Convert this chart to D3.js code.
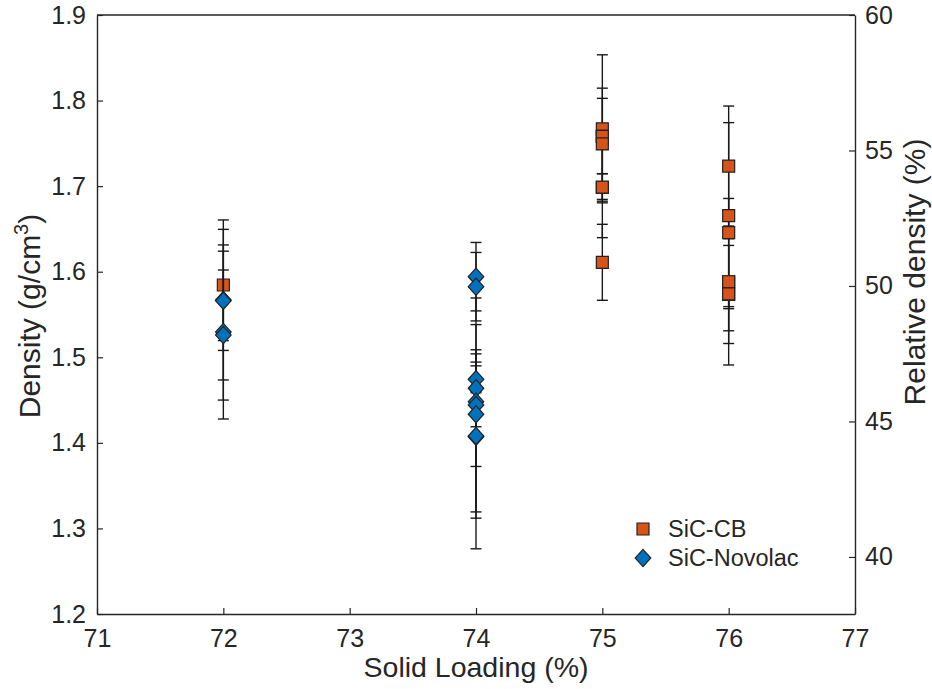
<!DOCTYPE html>
<html>
<head>
<meta charset="utf-8">
<script src="https://cdn.jsdelivr.net/npm/d3@7"></script>
<style>
  html, body { margin: 0; padding: 0; background: #fff; }
  svg { display: block; font-family: "Liberation Sans", Arial, Helvetica, sans-serif; }
</style>
</head>
<body>
<svg id="chart" width="932" height="689"></svg>
<script>
// Solid loading (%) of each measured sample, density (g/cm3) and its error
const cbLoading  = [72, 75, 75, 75, 75, 75, 75, 75, 76, 76, 76, 76, 76, 76, 76];
const cbDensity  = [1.5845, 1.767, 1.7586, 1.758, 1.7495, 1.6984, 1.6988, 1.611,
                    1.7235, 1.6655, 1.6456, 1.5883, 1.5883, 1.5734, 1.574];
const cbError    = [0.065, 0.0865, 0.044, 0.015, 0.065, 0.016, 0.059, 0.0444,
                    0.0701, 0.1087, 0.007, 0.0973, 0.0573, 0.0573, 0.0148];

const novLoading = [72, 72, 72, 72, 74, 74, 74, 74, 74, 74, 74, 74, 74];
const novDensity = [1.567, 1.566, 1.5296, 1.526, 1.5942, 1.5825, 1.4743, 1.4638,
                    1.4481, 1.4443, 1.4334, 1.4072, 1.408];
const novError   = [0.0935, 0.058, 0.1017, 0.076, 0.040, 0.040, 0.0157, 0.045,
                    0.012, 0.125, 0.061, 0.131, 0.096];

const xTicks     = [71, 72, 73, 74, 75, 76, 77];
const yTicks     = [1.2, 1.3, 1.4, 1.5, 1.6, 1.7, 1.8, 1.9];
const relTicks   = [40, 45, 50, 55, 60];
const seriesNames = ["SiC-CB", "SiC-Novolac"];

// relative density = density / theoretical density
const theoretical = 1.9 / 0.60;

const svg = d3.select("#chart");
const plotL = 97, plotR = 855, plotT = 15, plotB = 614;
const ink = "#262626";

const x = d3.scaleLinear().domain([71, 77]).range([plotL, plotR]);
const y = d3.scaleLinear().domain([1.2, 1.9]).range([plotB, plotT]);
const yRel = d3.scaleLinear()
  .domain([1.2 / theoretical * 100, 1.9 / theoretical * 100])
  .range([plotB, plotT]);

// axes
const xAxis = svg.append("g").attr("transform", `translate(0,${plotB})`)
  .call(d3.axisBottom(x).tickValues(xTicks).tickFormat(d3.format("d"))
    .tickSizeInner(-6).tickSizeOuter(0).tickPadding(15));
const yAxis = svg.append("g").attr("transform", `translate(${plotL},0)`)
  .call(d3.axisLeft(y).tickValues(yTicks).tickFormat(d3.format(".1f"))
    .tickSizeInner(-6).tickSizeOuter(0).tickPadding(11));
const rAxis = svg.append("g").attr("transform", `translate(${plotR},0)`)
  .call(d3.axisRight(yRel).tickValues(relTicks).tickFormat(d3.format("d"))
    .tickSizeInner(-6).tickSizeOuter(0).tickPadding(10));

[xAxis, yAxis, rAxis].forEach(g => {
  g.select(".domain").attr("stroke", ink).attr("stroke-width", 1.4);
  g.selectAll(".tick line").attr("stroke", ink).attr("stroke-width", 1.2);
  g.selectAll(".tick text").attr("fill", ink).style("font-size", "25px");
});
// top border
svg.append("line").attr("x1", plotL).attr("x2", plotR).attr("y1", plotT).attr("y2", plotT)
  .attr("stroke", ink).attr("stroke-width", 1.4);

// axis titles
svg.append("text").attr("x", x(74)).attr("y", 677).attr("text-anchor", "middle")
  .attr("fill", ink).style("font-size", "28.5px").text("Solid Loading (%)");

const yt = svg.append("text").attr("transform", `translate(39.5,316) rotate(-90)`)
  .attr("text-anchor", "middle").attr("fill", ink).style("font-size", "30px");
yt.append("tspan").text("Density (g/cm");
yt.append("tspan").attr("dy", -12).style("font-size", "20px").text("3");
yt.append("tspan").attr("dy", 12).text(")");

svg.append("text").attr("transform", `translate(925,272) rotate(-90)`)
  .attr("text-anchor", "middle").attr("fill", ink).style("font-size", "30px")
  .text("Relative density (%)");

// error bars and markers for one series
const capHalf = 5.5;
function drawSeries(xs, vals, errs, shape, fill) {
  const g = svg.append("g");
  const rows = xs.map((d, i) => ({ x: d, v: vals[i], e: errs[i] }));
  const eb = g.selectAll("g.eb").data(rows).join("g").attr("class", "eb")
    .attr("stroke", "#1a1a1a").attr("stroke-width", 1.4);
  eb.append("line").attr("x1", d => x(d.x)).attr("x2", d => x(d.x))
    .attr("y1", d => y(d.v + d.e)).attr("y2", d => y(d.v - d.e));
  eb.append("line").attr("x1", d => x(d.x) - capHalf).attr("x2", d => x(d.x) + capHalf)
    .attr("y1", d => y(d.v + d.e)).attr("y2", d => y(d.v + d.e));
  eb.append("line").attr("x1", d => x(d.x) - capHalf).attr("x2", d => x(d.x) + capHalf)
    .attr("y1", d => y(d.v - d.e)).attr("y2", d => y(d.v - d.e));
  g.selectAll("path.m").data(rows).join("path").attr("class", "m")
    .attr("d", shape)
    .attr("transform", d => `translate(${x(d.x)},${y(d.v)})`)
    .attr("fill", fill).attr("stroke", "#222").attr("stroke-width", 1.2);
}
const square = "M-6,-6H6V6H-6Z";
const diamond = "M0,-8.6L7.8,0L0,8.6L-7.8,0Z";
const cbColor = "#d95319", novColor = "#0072bd";

drawSeries(cbLoading, cbDensity, cbError, square, cbColor);
drawSeries(novLoading, novDensity, novError, diamond, novColor);

// legend
const legend = svg.append("g").attr("transform", "translate(643,529)");
[[square, cbColor], [diamond, novColor]].forEach(([shape, fill], i) => {
  const row = legend.append("g").attr("transform", `translate(0,${i * 29})`);
  row.append("path").attr("d", shape).attr("fill", fill)
    .attr("stroke", "#222").attr("stroke-width", 1.2);
  row.append("text").attr("x", 25).attr("y", 7.5).attr("fill", ink)
    .style("font-size", "23.5px").text(seriesNames[i]);
});
</script>
</body>
</html>
